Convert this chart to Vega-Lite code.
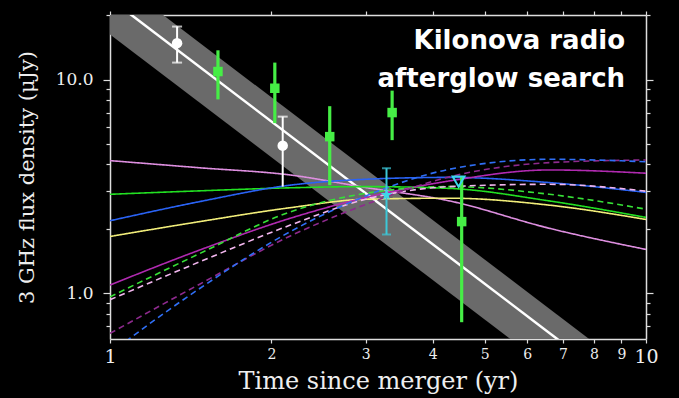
{
  "$schema": "https://vega.github.io/schema/vega-lite/v6.json",
  "width": 536,
  "height": 324,
  "autosize": "none",
  "padding": {"left": 110, "top": 15, "right": 33, "bottom": 59},
  "background": "black",
  "view": {"stroke": null},
  "config": {
    "axis": {
      "domainColor": "#dddddd", "tickColor": "#dddddd", "labelColor": "#eeeeee", "titleColor": "#eeeeee",
      "labelFont": "DejaVu Serif", "titleFont": "DejaVu Serif", "titleFontWeight": "normal",
      "grid": false, "domainWidth": 1.5, "tickWidth": 1.2
    }
  },
  "datasets": {
    "band": [{"x": 1, "lo": 16.25, "hi": 31.0}, {"x": 10, "lo": 0.2, "hi": 0.382}],
    "fit": [{"x": 1, "y": 23.9}, {"x": 10, "y": 0.294}],
    "curves": [
      {"c": "pinkS", "d": "s", "x": 1, "y": 4.17}, {"c": "pinkS", "d": "s", "x": 1.47, "y": 3.86}, {"c": "pinkS", "d": "s", "x": 2.17, "y": 3.57}, {"c": "pinkS", "d": "s", "x": 3, "y": 3.12}, {"c": "pinkS", "d": "s", "x": 4.3, "y": 2.7}, {"c": "pinkS", "d": "s", "x": 6.6, "y": 2.01}, {"c": "pinkS", "d": "s", "x": 10, "y": 1.6},
      {"c": "greenS", "d": "s", "x": 1, "y": 2.9}, {"c": "greenS", "d": "s", "x": 1.47, "y": 3.01}, {"c": "greenS", "d": "s", "x": 2.17, "y": 3.11}, {"c": "greenS", "d": "s", "x": 3, "y": 3.15}, {"c": "greenS", "d": "s", "x": 4.3, "y": 3.09}, {"c": "greenS", "d": "s", "x": 6.6, "y": 2.7}, {"c": "greenS", "d": "s", "x": 10, "y": 2.26},
      {"c": "blueS", "d": "s", "x": 1, "y": 2.18}, {"c": "blueS", "d": "s", "x": 1.47, "y": 2.68}, {"c": "blueS", "d": "s", "x": 2.17, "y": 3.2}, {"c": "blueS", "d": "s", "x": 3, "y": 3.41}, {"c": "blueS", "d": "s", "x": 4.3, "y": 3.48}, {"c": "blueS", "d": "s", "x": 6.6, "y": 3.29}, {"c": "blueS", "d": "s", "x": 10, "y": 2.96},
      {"c": "yellowS", "d": "s", "x": 1, "y": 1.84}, {"c": "yellowS", "d": "s", "x": 1.47, "y": 2.16}, {"c": "yellowS", "d": "s", "x": 2.17, "y": 2.51}, {"c": "yellowS", "d": "s", "x": 3, "y": 2.75}, {"c": "yellowS", "d": "s", "x": 4.3, "y": 2.78}, {"c": "yellowS", "d": "s", "x": 6.6, "y": 2.58}, {"c": "yellowS", "d": "s", "x": 10, "y": 2.21},
      {"c": "purpleS", "d": "s", "x": 1, "y": 1.09}, {"c": "purpleS", "d": "s", "x": 1.47, "y": 1.59}, {"c": "purpleS", "d": "s", "x": 2.17, "y": 2.24}, {"c": "purpleS", "d": "s", "x": 3, "y": 2.8}, {"c": "purpleS", "d": "s", "x": 4.3, "y": 3.35}, {"c": "purpleS", "d": "s", "x": 6.6, "y": 3.77}, {"c": "purpleS", "d": "s", "x": 10, "y": 3.64},
      {"c": "greenD", "d": "d", "x": 1, "y": 0.96}, {"c": "greenD", "d": "d", "x": 1.47, "y": 1.53}, {"c": "greenD", "d": "d", "x": 2.17, "y": 2.4}, {"c": "greenD", "d": "d", "x": 3, "y": 2.93}, {"c": "greenD", "d": "d", "x": 4.3, "y": 3.15}, {"c": "greenD", "d": "d", "x": 6.6, "y": 2.9}, {"c": "greenD", "d": "d", "x": 10, "y": 2.47},
      {"c": "pinkD", "d": "d", "x": 1, "y": 0.93}, {"c": "pinkD", "d": "d", "x": 1.47, "y": 1.4}, {"c": "pinkD", "d": "d", "x": 2.17, "y": 2.08}, {"c": "pinkD", "d": "d", "x": 3, "y": 2.75}, {"c": "pinkD", "d": "d", "x": 4.3, "y": 3.15}, {"c": "pinkD", "d": "d", "x": 6.6, "y": 3.23}, {"c": "pinkD", "d": "d", "x": 10, "y": 3.0},
      {"c": "dpurpleD", "d": "d", "x": 1, "y": 0.647}, {"c": "dpurpleD", "d": "d", "x": 1.47, "y": 1.1}, {"c": "dpurpleD", "d": "d", "x": 2.17, "y": 1.85}, {"c": "dpurpleD", "d": "d", "x": 3, "y": 2.6}, {"c": "dpurpleD", "d": "d", "x": 4.3, "y": 3.5}, {"c": "dpurpleD", "d": "d", "x": 6.6, "y": 4.08}, {"c": "dpurpleD", "d": "d", "x": 10, "y": 4.2},
      {"c": "blueD", "d": "d", "x": 1, "y": 0.52}, {"c": "blueD", "d": "d", "x": 1.09, "y": 0.614}, {"c": "blueD", "d": "d", "x": 1.47, "y": 1.05}, {"c": "blueD", "d": "d", "x": 2.17, "y": 1.94}, {"c": "blueD", "d": "d", "x": 3, "y": 2.85}, {"c": "blueD", "d": "d", "x": 4.3, "y": 3.8}, {"c": "blueD", "d": "d", "x": 6.6, "y": 4.23}, {"c": "blueD", "d": "d", "x": 10, "y": 4.12}
    ],
    "white": [{"x": 1.334, "y": 14.8, "lo": 12.0, "hi": 17.7}, {"x": 2.1, "y": 4.9, "lo": 3.15, "hi": 6.7}],
    "whiteCaps": [{"x": 1.334, "y": 12.0}, {"x": 1.334, "y": 17.7}, {"x": 2.1, "y": 6.7}],
    "green": [
      {"x": 1.59, "y": 10.9, "lo": 8.07, "hi": 13.7},
      {"x": 2.03, "y": 9.1, "lo": 6.25, "hi": 12.0},
      {"x": 2.57, "y": 5.4, "lo": 3.2, "hi": 7.5},
      {"x": 3.36, "y": 7.0, "lo": 5.2, "hi": 8.87},
      {"x": 4.53, "y": 2.16, "lo": 0.73, "hi": 3.5}
    ],
    "cyan": [{"x": 3.28, "y": 2.88, "lo": 1.88, "hi": 3.84}],
    "cyanCaps": [{"x": 3.28, "y": 1.88}, {"x": 3.28, "y": 3.84}],
    "limit": [{"x": 4.47, "y": 3.32}],
    "labels": [{"t": "Kilonova radio", "x": 9.14, "y": 13.85}, {"t": "afterglow search", "x": 9.14, "y": 9.19}]
  },
  "layer": [
    {
      "data": {"name": "band"},
      "mark": {"type": "area", "color": "#6a6a6a", "clip": true},
      "encoding": {
        "x": {"field": "x", "type": "quantitative", "scale": {"type": "log", "domain": [1, 10], "nice": false},
          "axis": {"orient": "bottom", "values": [1, 2, 3, 4, 5, 6, 7, 8, 9, 10], "labelExpr": "datum.value",
            "labelFontSize": {"condition": {"test": "datum.value == 1 || datum.value == 10", "value": 19}, "value": 14},
            "tickSize": 4, "labelPadding": 4, "labelFlush": false, "labelOverlap": false,
            "title": "Time since merger (yr)", "titleFontSize": 24, "titlePadding": 3}},
        "y": {"field": "lo", "type": "quantitative", "scale": {"type": "log", "domain": [0.609, 20.05], "nice": false},
          "axis": {"orient": "left", "values": [0.7, 0.8, 0.9, 1, 2, 3, 4, 5, 6, 7, 8, 9, 10, 20],
            "labelExpr": "datum.value == 1 ? '1.0' : datum.value == 10 ? '10.0' : ''",
            "tickSize": {"condition": {"test": "datum.value == 1 || datum.value == 10", "value": 7}, "value": 4},
            "labelFontSize": 17, "labelPadding": 10, "labelFlush": false, "labelOverlap": false,
            "title": "3 GHz flux density (μJy)", "titleFontSize": 21, "titlePadding": 18}},
        "y2": {"field": "hi"}
      }
    },
    {
      "data": {"name": "fit"},
      "mark": {"type": "line", "color": "white", "strokeWidth": 2.5, "clip": true},
      "encoding": {
        "x": {"field": "x", "type": "quantitative",
          "axis": {"orient": "top", "values": [1, 2, 3, 4, 5, 6, 7, 8, 9, 10], "labels": false, "tickSize": 4, "title": null}},
        "y": {"field": "y", "type": "quantitative",
          "axis": {"orient": "right", "values": [0.7, 0.8, 0.9, 1, 2, 3, 4, 5, 6, 7, 8, 9, 10, 20], "labels": false,
            "tickSize": {"condition": {"test": "datum.value == 1 || datum.value == 10", "value": 7}, "value": 4}, "title": null}}
      }
    },
    {
      "data": {"name": "curves"},
      "mark": {"type": "line", "interpolate": "monotone", "strokeWidth": 1.6, "clip": true},
      "encoding": {
        "x": {"field": "x", "type": "quantitative", "axis": null},
        "y": {"field": "y", "type": "quantitative", "axis": null},
        "color": {"field": "c", "type": "nominal", "legend": null,
          "scale": {"domain": ["pinkS", "greenS", "blueS", "yellowS", "purpleS", "greenD", "pinkD", "dpurpleD", "blueD"],
            "range": ["#de8fe0", "#22e022", "#2a63f5", "#f2ee7a", "#b02ab0", "#36e036", "#f2b6ee", "#8e2a8e", "#2f6ff5"]}},
        "strokeDash": {"field": "d", "type": "nominal", "legend": null,
          "scale": {"domain": ["s", "d"], "range": [[1, 0], [6, 4]]}}
      }
    },
    {
      "data": {"name": "white"},
      "mark": {"type": "rule", "color": "white", "strokeWidth": 2},
      "encoding": {
        "x": {"field": "x", "type": "quantitative", "axis": null},
        "y": {"field": "lo", "type": "quantitative", "axis": null},
        "y2": {"field": "hi"}
      }
    },
    {
      "data": {"name": "whiteCaps"},
      "mark": {"type": "tick", "orient": "horizontal", "color": "white", "size": 10, "thickness": 2},
      "encoding": {
        "x": {"field": "x", "type": "quantitative", "axis": null},
        "y": {"field": "y", "type": "quantitative", "axis": null}
      }
    },
    {
      "data": {"name": "white"},
      "mark": {"type": "point", "shape": "circle", "filled": true, "color": "white", "size": 110, "opacity": 1},
      "encoding": {
        "x": {"field": "x", "type": "quantitative", "axis": null},
        "y": {"field": "y", "type": "quantitative", "axis": null}
      }
    },
    {
      "data": {"name": "green"},
      "mark": {"type": "rule", "color": "#46ee46", "strokeWidth": 3.2},
      "encoding": {
        "x": {"field": "x", "type": "quantitative", "axis": null},
        "y": {"field": "lo", "type": "quantitative", "axis": null},
        "y2": {"field": "hi"}
      }
    },
    {
      "data": {"name": "green"},
      "mark": {"type": "point", "shape": "square", "filled": true, "color": "#46ee46", "size": 90, "opacity": 1},
      "encoding": {
        "x": {"field": "x", "type": "quantitative", "axis": null},
        "y": {"field": "y", "type": "quantitative", "axis": null}
      }
    },
    {
      "data": {"name": "cyan"},
      "mark": {"type": "rule", "color": "#3cc8d8", "strokeWidth": 2},
      "encoding": {
        "x": {"field": "x", "type": "quantitative", "axis": null},
        "y": {"field": "lo", "type": "quantitative", "axis": null},
        "y2": {"field": "hi"}
      }
    },
    {
      "data": {"name": "cyanCaps"},
      "mark": {"type": "tick", "orient": "horizontal", "color": "#3cc8d8", "size": 9, "thickness": 2},
      "encoding": {
        "x": {"field": "x", "type": "quantitative", "axis": null},
        "y": {"field": "y", "type": "quantitative", "axis": null}
      }
    },
    {
      "data": {"name": "cyan"},
      "mark": {"type": "point", "filled": true, "color": "#3cd8e8", "size": 150, "opacity": 1,
        "shape": "M0,-1L0.2245,-0.309L0.951,-0.309L0.363,0.118L0.588,0.809L0,0.382L-0.588,0.809L-0.363,0.118L-0.951,-0.309L-0.2245,-0.309Z"},
      "encoding": {
        "x": {"field": "x", "type": "quantitative", "axis": null},
        "y": {"field": "y", "type": "quantitative", "axis": null}
      }
    },
    {
      "data": {"name": "limit"},
      "mark": {"type": "point", "shape": "triangle-down", "filled": false, "color": "#3cd8e8", "strokeWidth": 2, "size": 140, "opacity": 1},
      "encoding": {
        "x": {"field": "x", "type": "quantitative", "axis": null},
        "y": {"field": "y", "type": "quantitative", "axis": null}
      }
    },
    {
      "data": {"name": "labels"},
      "mark": {"type": "text", "align": "right", "baseline": "alphabetic", "font": "DejaVu Sans", "fontWeight": "bold", "fontSize": 26, "color": "white"},
      "encoding": {
        "x": {"field": "x", "type": "quantitative", "axis": null},
        "y": {"field": "y", "type": "quantitative", "axis": null},
        "text": {"field": "t"}
      }
    }
  ],
  "resolve": {"axis": {"x": "independent", "y": "independent"}}
}
